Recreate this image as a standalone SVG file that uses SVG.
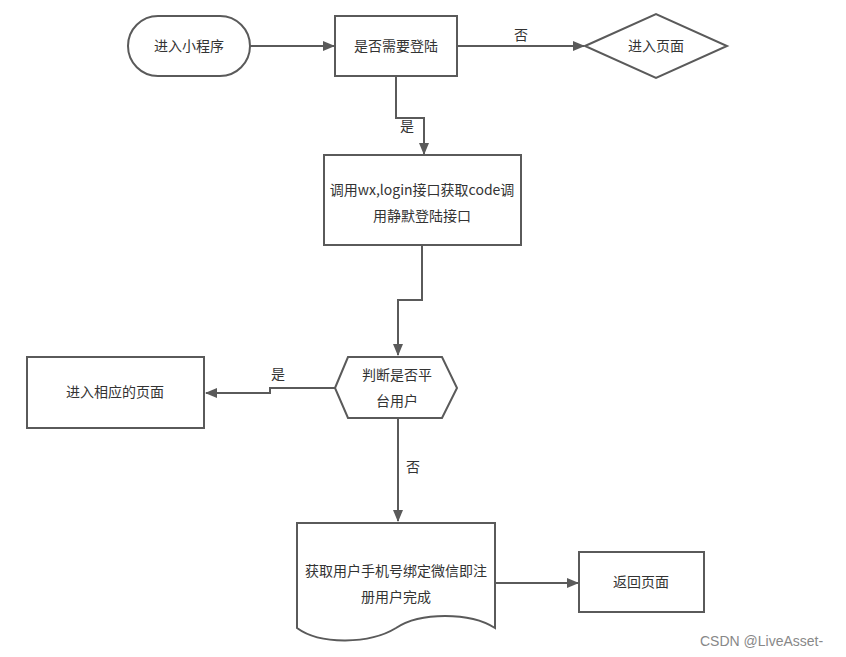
<svg xmlns="http://www.w3.org/2000/svg" width="846" height="657" viewBox="0 0 846 657">
<defs>
<marker id="arr" markerWidth="12" markerHeight="10" refX="11" refY="5" orient="auto" markerUnits="userSpaceOnUse">
<path d="M0,0 L12,5 L0,10 Z" fill="#5a5a5a"/>
</marker>
<style>
.s{fill:#fff;stroke:#5a5a5a;stroke-width:2}
.c{fill:none;stroke:#5a5a5a;stroke-width:2;marker-end:url(#arr)}
text{font-family:"Noto Sans CJK SC","Liberation Sans",sans-serif;font-size:14px;fill:#333;text-anchor:middle}
.wm{font-family:"Liberation Sans","Noto Sans CJK SC",sans-serif;font-size:14px;fill:#888;text-anchor:start}
</style>
</defs>
<rect width="846" height="657" fill="#fff"/>
<g id="connectors">
<path class="c" d="M250,46 H334"/>
<path class="c" d="M457,46 H584"/>
<text x="521" y="40">否</text>
<path class="c" d="M396,76 V118 H424 V154"/>
<text x="407" y="131">是</text>
<path class="c" d="M422,245 V300 H398 V355"/>
<path class="c" d="M335,388 H270 V393 H206"/>
<text x="278" y="379">是</text>
<path class="c" d="M398,418 V521"/>
<text x="413" y="472">否</text>
<path class="c" d="M495,583 H578"/>
</g>
<g id="start">
<rect class="s" x="128" y="16" width="122" height="60" rx="30"/>
<text x="189" y="51">进入小程序</text>
</g>
<g id="needLogin">
<rect class="s" x="335" y="16" width="122" height="60"/>
<text x="396" y="51">是否需要登陆</text>
</g>
<g id="enterPage">
<path class="s" d="M585,46 L656,14 L727,46 L656,78 Z"/>
<text x="656" y="51">进入页面</text>
</g>
<g id="silentLogin">
<rect class="s" x="324" y="155" width="197" height="90"/>
<text x="422" y="195">调用wx,login接口获取code调</text>
<text x="422" y="221">用静默登陆接口</text>
</g>
<g id="isUser">
<path class="s" d="M335,388 L348,357 L442,357 L457,388 L442,418 L348,418 Z"/>
<text x="397" y="380">判断是否平</text>
<text x="397" y="406">台用户</text>
</g>
<g id="enterRelated">
<rect class="s" x="27" y="357" width="177" height="71"/>
<text x="115" y="397">进入相应的页面</text>
</g>
<g id="register">
<path class="s" d="M297,523 H495 V628 C470,612 420,612 396,628 C370,644 320,645 297,628 Z"/>
<text x="396" y="576">获取用户手机号绑定微信即注</text>
<text x="396" y="602">册用户完成</text>
</g>
<g id="back">
<rect class="s" x="579" y="552" width="125" height="60"/>
<text x="641" y="587">返回页面</text>
</g>
<text class="wm" x="700" y="646">CSDN @LiveAsset-</text>
</svg>
